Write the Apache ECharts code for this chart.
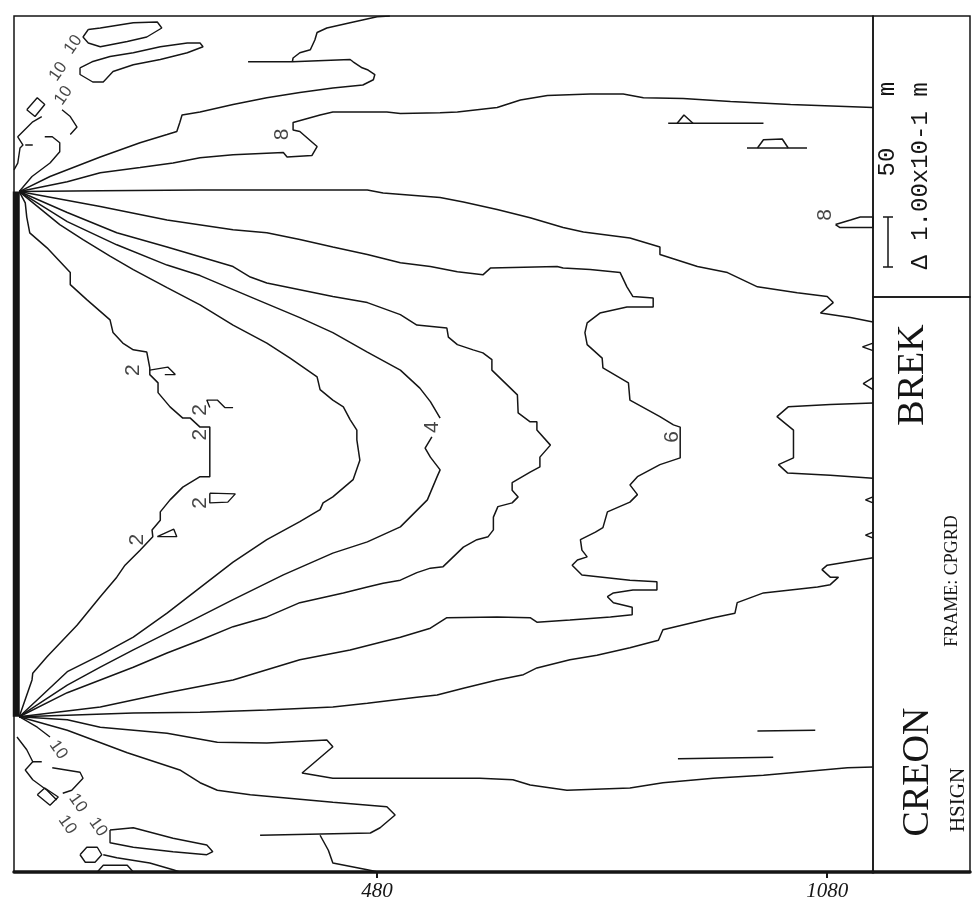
<!DOCTYPE html>
<html>
<head>
<meta charset="utf-8">
<script src="https://cdn.jsdelivr.net/npm/echarts@6/dist/echarts.min.js"></script>
<style>
html,body{margin:0;padding:0;background:#fff;}
#chart{width:977px;height:907px;}
</style>
</head>
<body>
<div id="chart"></div>
<script>
// HSIGN contours (x10^-1 m) behind the breakwater, coordinates in metres.
// Each contour level is a list of polyline segments.
const breakwater = [[-1, 207], [-1, 907]];

const level2 = [
  [[3,907],[11,892],[13,873],[17,852],[40,832],[71,799],[71,783],[93,763],[124,736],[128,719],[141,705],[155,696],[173,693],[177,672],[177,663],[188,652],[188,639],[204,620],[221,605],[231,605],[244,593],[257,593],[257,527],[244,527],[221,513],[204,496],[191,480],[191,469],[180,456],[181,447],[164,429],[144,409],[133,393],[111,367],[80,329],[40,287],[21,265],[20,256],[3,207]]
];
const level2Flags = [
  [[177,669],[201,673],[211,663],[197,663]],
  [[257,619],[253,629],[267,629],[277,619],[288,619]],
  [[257,505],[291,504],[281,493],[257,492],[257,505]],
  [[187,447],[213,447],[209,457],[187,447]]
];
const level3 = [
  [[3,907],[57,863],[88,843],[124,821],[155,803],[200,779],[244,756],[288,729],[333,705],[364,685],[400,660],[404,643],[421,629],[435,620],[444,603],[453,589],[453,576],[457,549],[448,523],[421,500],[408,492],[404,483],[377,467],[333,443],[288,413],[244,379],[200,345],[155,313],[111,289],[67,267],[3,207]]
];
const level4 = [
  [[3,907],[67,867],[133,836],[200,809],[244,795],[315,765],[377,739],[421,719],[467,693],[511,669],[537,645],[551,627],[564,605]],
  [[553,580],[544,565],[551,553],[564,536],[560,527],[547,496],[511,460],[467,440],[421,425],[355,396],[288,363],[227,332],[155,296],[111,273],[67,249],[3,207]]
];
const level5 = [
  [[3,907],[67,879],[133,852],[200,833],[244,820],[288,807],[311,793],[333,785],[377,776],[421,767],[467,759],[511,743],[533,729],[573,725],[575,713],[587,703],[608,696],[621,692],[633,683],[633,669],[667,636],[668,612],[684,600],[693,600],[693,589],[711,569],[697,553],[697,540],[684,533],[660,519],[660,509],[668,500],[660,492],[641,487],[635,473],[635,456],[628,447],[613,443],[595,433],[568,407],[551,405],[533,399],[511,389],[488,385],[467,380],[435,372],[377,359],[333,340],[288,327],[244,309],[200,292],[155,273],[111,256],[67,239],[3,207]]
];
const level6 = [
  [[3,907],[111,887],[200,869],[288,856],[333,852],[377,843],[421,833],[467,823],[511,812],[551,807],[587,800],[621,796],[631,805],[720,807],[728,805],[764,803],[804,799],[813,780],[821,767],[848,765],[848,753],[813,753],[777,745],[760,732],[757,719],[760,703],[780,685],[781,672],[815,652],[817,629],[857,607],[875,596],[884,593],[884,552],[857,543],[827,527],[817,516],[827,503],[817,493],[787,480],[781,459],[771,453],[751,443],[753,429],[760,420],[747,416],[740,409],[753,396],[817,389],[853,387],[853,376],[821,376],[795,372],[787,367],[795,359],[820,353],[820,343],[791,340],[737,336],[693,333],[684,339],[640,340],[573,339],[551,325],[511,313],[444,296],[377,283],[288,256],[200,239],[111,220],[3,207]],
  [[1141,625],[1084,623],[1028,620],[1013,607],[1035,589],[1035,552],[1015,543],[1027,532],[1084,529],[1141,525]]
];
const level7 = [
  [[3,907],[111,908],[244,909],[467,909],[488,905],[564,899],[595,893],[640,883],[684,872],[728,859],[755,853],[817,845],[857,833],[857,823],[907,807],[947,799],[987,780],[1040,772],[1080,767],[1088,759],[1071,745],[1111,739],[1141,733]],
  [[1141,419],[1080,409],[1073,403],[1084,393],[1095,393],[1084,383],[1067,380],[995,372],[960,359],[957,345],[928,339],[861,323],[855,309],[817,299],[773,289],[737,283],[693,272],[675,263],[640,256],[595,245],[560,236],[533,233],[467,225],[421,220],[333,216],[244,213],[155,212],[67,209],[3,207]]
];
const level8 = [
  [[3,907],[67,920],[111,932],[164,939],[208,945],[244,952],[288,956],[355,959],[360,953],[393,955],[400,967],[377,987],[368,989],[368,999],[404,1009],[421,1013],[493,1013],[511,1011],[564,1012],[587,1013],[640,1019],[671,1029],[707,1035],[764,1037],[808,1037],[835,1032],[888,1031],[951,1027],[1031,1023],[1141,1019]],
  [[3,207],[67,203],[111,193],[200,185],[267,173],[333,172],[413,176],[421,167],[380,132],[421,125],[564,125],[617,125],[661,123],[684,116],[733,109],[817,112],[861,119],[928,125],[995,129],[1040,133],[1107,139],[1141,140]],
  [[1091,863],[1111,869],[1124,873],[1141,873],[1141,859],[1097,859],[1091,863]]
];
const level9 = [
  [[3,907],[44,927],[111,953],[164,972],[200,983],[213,987],[217,999],[220,1009],[244,1013],[288,1023],[333,1032],[377,1039],[421,1045],[461,1049],[475,1056],[477,1063],[468,1069],[460,1072],[448,1080],[444,1083],[367,1080],[308,1080]],
  [[367,1080],[368,1085],[377,1092],[391,1096],[397,1109],[400,1119],[413,1125],[444,1132],[480,1140],[497,1141]],
  [[3,207],[67,189],[147,159],[217,136],[244,119],[267,109],[311,103],[355,99],[421,93],[493,87],[504,76],[484,59],[471,52],[324,49]],
  [[404,49],[415,29],[421,12],[467,3],[481,0]]
];
const level10 = [
  [[95,1123],[111,1125],[155,1132],[187,1133],[193,1125],[173,1113],[147,1107],[111,1100],[95,1105],[88,1113],[95,1123]],
  [[84,1072],[100,1080],[124,1087],[155,1092],[191,1100],[227,1105],[244,1105],[248,1100],[227,1092],[191,1083],[155,1076],[128,1067],[115,1053],[101,1053],[84,1063],[84,1072]],
  [[-4,936],[1,945],[4,965],[8,969],[1,980],[21,1000],[33,1007]],
  [[11,969],[21,969]],
  [[3,907],[20,927],[44,945],[57,960],[57,972],[47,980],[37,980]],
  [[71,983],[80,993],[71,1007],[60,1016]],
  [[13,1016],[27,1032],[37,1023],[24,1007],[13,1016]],
  [[0,180],[13,163],[21,147],[11,136],[21,123],[40,109],[53,96]],
  [[21,147],[33,147]],
  [[47,139],[84,133],[88,125],[73,109],[61,105]],
  [[3,207],[27,193],[44,180]],
  [[124,56],[155,59],[208,45],[253,36],[261,27],[253,23],[208,27],[155,33],[124,39],[124,56]],
  [[115,23],[133,19],[177,12],[208,3],[217,0]],
  [[84,23],[93,33],[107,33],[113,23],[104,13],[91,13],[84,23]],
  [[107,0],[115,9],[147,9],[155,0]],
  [[27,103],[37,112],[55,100],[44,89],[27,103]]
];
// short plotter strokes in the open area
const fragments = [
  [[868,998],[995,998]],
  [[880,998],[889,1009],[901,998]],
  [[973,965],[1053,965]],
  [[987,965],[995,976],[1020,977],[1028,965]],
  [[1141,705],[1127,700],[1141,695]],
  [[1141,659],[1128,651],[1141,643]],
  [[1141,500],[1131,496],[1141,492]],
  [[1141,453],[1131,449],[1141,445]],
  [[987,188],[1064,189]],
  [[881,151],[1008,153]]
];
const contourLabels = [
  [155,669,'2'],[244,616,'2'],[244,583,'2'],[244,492,'2'],[160,443,'2'],
  [553,593,'4'],[873,580,'6'],[353,983,'8'],[1077,876,'8']
];
const upperLabels10 = [[75,1103,'10'],[55,1067,'10'],[62,1035,'10']];
const lowerLabels10 = [[55,163,'10'],[81,92,'10'],[67,63,'10'],[108,60,'10']];
const xTicks = [480, 1080];

const INK = '#151515';

function lines(segments, width) {
  return segments.map(pts => ({
    type: 'line', xAxisIndex: 0, yAxisIndex: 0, data: pts,
    symbol: 'none', silent: true, smooth: false,
    lineStyle: { color: INK, width: width }, z: 3
  }));
}
function labels(items, rotate, size) {
  return {
    type: 'scatter', xAxisIndex: 0, yAxisIndex: 0, silent: true, z: 4,
    symbolSize: 1, itemStyle: { color: 'transparent' },
    data: items.map(d => ({ value: [d[0], d[1]], name: d[2] })),
    label: { show: true, position: 'inside', formatter: '{b}', rotate: rotate,
      fontSize: size, fontFamily: 'Liberation Sans', color: INK }
  };
}

const series = [].concat(
  lines([breakwater], 7),
  lines(level2, 1.5), lines(level2Flags, 1.4),
  lines(level3, 1.5), lines(level4, 1.5), lines(level5, 1.5),
  lines(level6, 1.5), lines(level7, 1.5), lines(level8, 1.5),
  lines(level9, 1.5), lines(level10, 1.4), lines(fragments, 1.5),
  [labels(contourLabels, 90, 21), labels(upperLabels10, 55, 17), labels(lowerLabels10, -55, 17)]
);

function vtext(x, y, text, size, family) {
  return { type: 'text', x: x, y: y, rotation: Math.PI / 2, z: 10,
    style: { text: text, fontSize: size, fontFamily: family, fill: INK,
      align: 'center', verticalAlign: 'middle' } };
}

const chart = echarts.init(document.getElementById('chart'));
chart.setOption({
  animation: false,
  backgroundColor: '#fff',
  grid: [
    { left: 14, top: 16, width: 859, height: 856, show: true, borderColor: INK, borderWidth: 1.5 },
    { left: 873, top: 16, width: 97, height: 281, show: true, borderColor: INK, borderWidth: 1.5 },
    { left: 873, top: 297, width: 97, height: 575, show: true, borderColor: INK, borderWidth: 1.5 }
  ],
  xAxis: [
    { gridIndex: 0, type: 'value', min: -4, max: 1141,
      axisLine: { show: true, onZero: false, lineStyle: { color: INK, width: 3.5 } },
      axisTick: { show: true, customValues: xTicks, length: 6, lineStyle: { color: INK, width: 2 } },
      axisLabel: { show: true, customValues: xTicks, margin: 9, fontSize: 21, fontStyle: 'italic',
        fontFamily: 'Liberation Serif', color: INK, formatter: v => String(v) },
      splitLine: { show: false } },
    { gridIndex: 1, type: 'value', min: 0, max: 1, show: false },
    { gridIndex: 2, type: 'value', min: 0, max: 1,
      axisLine: { show: true, onZero: false, lineStyle: { color: INK, width: 3.5 } },
      axisTick: { show: false }, axisLabel: { show: false }, splitLine: { show: false } }
  ],
  yAxis: [
    { gridIndex: 0, type: 'value', min: 0, max: 1141, show: false },
    { gridIndex: 1, type: 'value', min: 0, max: 1, show: false },
    { gridIndex: 2, type: 'value', min: 0, max: 1, show: false }
  ],
  graphic: [
    { type: 'polyline', shape: { points: [[883, 217], [893, 217]] }, style: { stroke: INK, lineWidth: 1.5 } },
    { type: 'polyline', shape: { points: [[888, 217], [888, 267]] }, style: { stroke: INK, lineWidth: 1.5 } },
    { type: 'polyline', shape: { points: [[883, 267], [893, 267]] }, style: { stroke: INK, lineWidth: 1.5 } },
    vtext(888, 162, '50', 24, 'Liberation Mono'),
    vtext(888, 89, 'm', 24, 'Liberation Mono'),
    vtext(921, 176, '\u0394 1.00x10-1 m', 24, 'Liberation Mono'),
    vtext(913, 375, 'BREK', 38, 'Liberation Serif'),
    vtext(952, 581, 'FRAME: CPGRD', 18, 'Liberation Serif'),
    vtext(918, 772, 'CREON', 38, 'Liberation Serif'),
    vtext(958, 800, 'HSIGN', 21, 'Liberation Serif')
  ],
  series: series
});
</script>
</body>
</html>
